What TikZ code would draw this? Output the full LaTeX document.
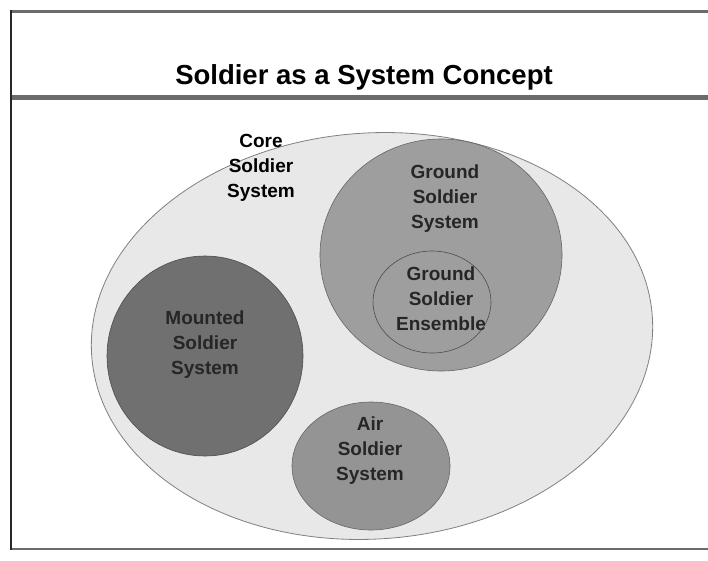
\documentclass[tikz,border=0pt]{standalone}
\usepackage{xcolor}
\usepackage{fontspec}
\setmainfont{Liberation Sans}
\usepackage{tikz}
\usetikzlibrary{positioning}

\definecolor{coregray}{gray}{0.91}
\definecolor{groundgray}{gray}{0.62}
\definecolor{mountedgray}{gray}{0.44}
\definecolor{airgray}{gray}{0.58}
\definecolor{bandgray}{gray}{0.42}

\tikzset{
  sysname/.style = {align=center, font=\fontsize{19}{25}\selectfont\bfseries,
                    inner sep = 0pt},
  rule/.style    = {line width=3pt, color=bandgray}
}

\begin{document}
\begin{tikzpicture}[x=1pt,y=1pt]
  \useasboundingbox (0,0) rectangle (708,-561);
  \fill[white] (0,0) rectangle (708,-561);

  % frame of the slide
  \draw[rule] (11,-12) -- (708,-12);
  \draw[rule, line width=5pt] (11,-98) -- (708,-98);
  \draw[rule, line width=2.5pt] (11,-549) -- (708,-549);
  \draw[line width=1.5pt, color=black!85] (11,-10.5) -- (11,-550);

  \node[font=\fontsize{27.5}{32}\selectfont\bfseries] (title) at (364,-77)
       {Soldier as a System Concept};

  % systems
  \filldraw[fill=coregray, draw=gray, line width=0.8pt, rotate around={4:(372,-336)}]
           (372,-336) ellipse [x radius=281, y radius=203];
  \filldraw[fill=groundgray, draw=gray!80!black, line width=0.6pt]
           (441,-255) ellipse [x radius=121, y radius=116];
  \draw[color=gray!60!black, line width=0.6pt]
           (432,-302) ellipse [x radius=59, y radius=51];
  \filldraw[fill=mountedgray, draw=gray!60!black, line width=0.6pt]
           (205,-356) ellipse [x radius=98, y radius=100];
  \filldraw[fill=airgray, draw=gray!80!black, line width=0.6pt]
           (371,-466) ellipse [x radius=79, y radius=64];

  \node[sysname] (core)     at (261,-168) {Core\\Soldier\\System};
  \node[sysname, color=black!85] (ground)   at (445,-199) {Ground\\Soldier\\System};
  \node[sysname, color=black!85] (ensemble) at (441,-299) {Ground\\Soldier\\Ensemble};
  \node[sysname, color=black!85] (mounted)  at (205,-345) {Mounted\\Soldier\\System};
  \node[sysname, color=black!85] (air)      at (370,-451) {Air\\Soldier\\System};

\end{tikzpicture}
\end{document}
